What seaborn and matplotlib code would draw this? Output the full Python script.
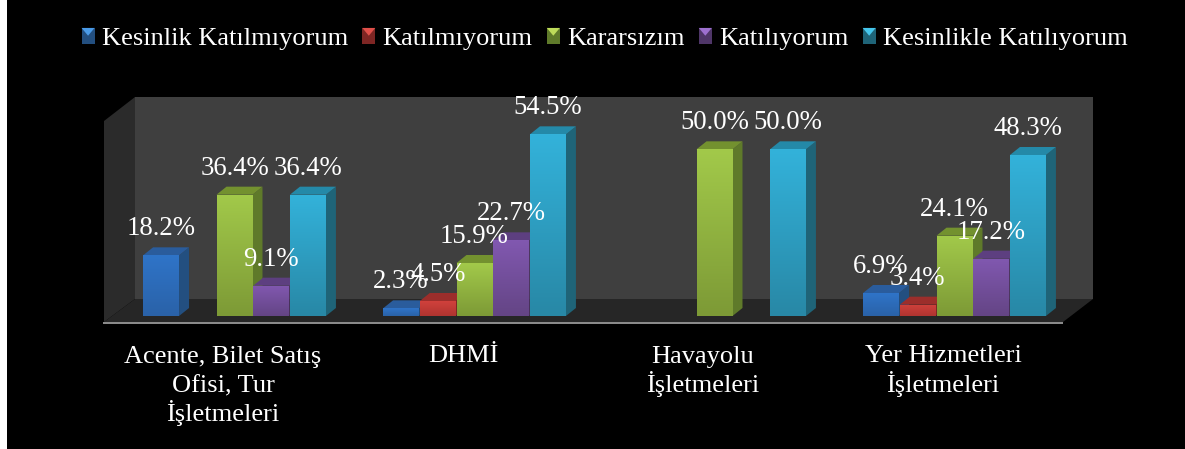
import numpy as np
import pandas as pd
import seaborn as sns
import matplotlib.pyplot as plt
from matplotlib.colors import LinearSegmentedColormap
from matplotlib.legend_handler import HandlerBase
from matplotlib.patches import Patch, Polygon, Rectangle

categories = ["Acente, Bilet Satış\nOfisi, Tur\nİşletmeleri", "DHMİ", "Havayolu\nİşletmeleri", "Yer Hizmetleri\nİşletmeleri"]
series = ["Kesinlik Katılmıyorum", "Katılmıyorum", "Kararsızım", "Katılıyorum", "Kesinlikle Katılıyorum"]
kesinlik_katilmiyorum = [18.2, 2.3, 0, 6.9]
katilmiyorum = [0, 4.5, 0, 3.4]
kararsizim = [36.4, 15.9, 50.0, 24.1]
katiliyorum = [9.1, 22.7, 0, 17.2]
kesinlikle_katiliyorum = [36.4, 54.5, 50.0, 48.3]
all_values = [kesinlik_katilmiyorum, katilmiyorum, kararsizim, katiliyorum, kesinlikle_katiliyorum]

# colours per series: front top, front bottom, side, top face
shades = [("#2f74c8", "#2a62a8", "#234f80", "#2a5c9c"),
          ("#d0413c", "#b03430", "#7e2624", "#9c2e2b"),
          ("#a2c94a", "#7d9a36", "#5f7a2a", "#73912f"),
          ("#8158b0", "#644585", "#4f3668", "#5d3f80"),
          ("#33b2da", "#2888a6", "#1f6478", "#2489a8")]
key_light = ["#4a9be8", "#e0504a", "#bedc5a", "#9d70cf", "#45c6ec"]

W, H = 1185, 449
FS = 19
sns.set_style("white")
plt.rcParams["font.family"] = ["Liberation Serif", "DejaVu Serif"]

fig = plt.figure(figsize=(W / 100, H / 100), dpi=100, facecolor="black")


def px(pts):
    # picture pixels (y down) to figure fraction
    return [(x / W, 1 - y / H) for x, y in pts]


def back_poly(pts, color, z=0):
    fig.add_artist(Polygon(px(pts), closed=True, facecolor=color, edgecolor="none", zorder=z))


# white strip on the left, then the 3d box behind the bars
fig.add_artist(Rectangle((0, 0), 7 / W, 1, facecolor="white", edgecolor="none", zorder=0))
back_poly([(135, 97), (1093, 97), (1093, 299), (135, 299)], "#3f3f3f")
back_poly([(104, 121), (135, 97), (135, 299), (104, 322)], "#2b2b2b")
back_poly([(104, 322), (135, 299), (1093, 299), (1063, 322)], "#262626")
back_poly([(103, 321.5), (1063, 321.5), (1063, 324), (103, 324)], "#8a8a8a")

ax = fig.add_axes([114.5 / W, 1 - 316 / H, 960 / W, 200 / H])
ax.patch.set_alpha(0)

df = pd.DataFrame({"category": np.repeat(categories, len(series)),
                   "series": series * len(categories),
                   "value": [all_values[s][c] for c in range(len(categories)) for s in range(len(series))]})
sns.barplot(data=df, x="category", y="value", hue="series", hue_order=series, order=categories,
            palette=[s[0] for s in shades], width=0.765, gap=0.02, saturation=1, errorbar=None,
            legend=False, linewidth=0, ax=ax)
ax.set_xlim(-0.5, 3.5)
ax.set_ylim(0, 60)

# depth of the bars in data units
dx = 10 / 240
dy = 8 / (200 / 60)

for s, cont in enumerate(ax.containers):
    cmap = LinearSegmentedColormap.from_list("f", [shades[s][0], shades[s][1]])
    z = 3 + s
    for bar in cont:
        h = bar.get_height()
        if h == 0:
            bar.set_visible(False)
            continue
        x0, x1 = bar.get_x(), bar.get_x() + bar.get_width()
        bar.set_zorder(z)
        bar.set_edgecolor("none")
        im = ax.imshow(np.linspace(0, 1, 64).reshape(-1, 1), cmap=cmap, aspect="auto",
                       extent=(x0, x1, 0, h), origin="upper", zorder=z + 0.1)
        im.set_clip_path(bar)
        ax.add_patch(Polygon([(x1, 0), (x1 + dx, dy), (x1 + dx, h + dy), (x1, h)],
                             facecolor=shades[s][2], edgecolor="none", zorder=z - 0.1, clip_on=False))
        ax.add_patch(Polygon([(x0, h), (x0 + dx, h + dy), (x1 + dx, h + dy), (x1, h)],
                             facecolor=shades[s][3], edgecolor="none", zorder=z - 0.1, clip_on=False))
    labels = ["%.1f%%" % v if v else "" for v in all_values[s]]
    for t in ax.bar_label(cont, labels=labels, padding=10, color="white", fontsize=FS + 0.3, clip_on=False):
        t.set_zorder(20)
ax.set_xlim(-0.5, 3.5)
ax.set_ylim(0, 60)

ax.set_xlabel("")
ax.set_ylabel("")
ax.set_yticks([])
ax.set_xticks([])
sns.despine(ax=ax, left=True, bottom=True)

# category names line by line: a multiline text spaces the lines with İ unevenly
for i, name in enumerate(categories):
    for n, line in enumerate(name.split("\n")):
        ax.annotate(line, xy=(i, 0), xytext=(-11.5 * 0.72, -(46.5 + 29.5 * n) * 0.72), textcoords="offset points",
                    ha="center", va="baseline", color="white", fontsize=FS, annotation_clip=False)


class SquareHandler(HandlerBase):
    # legend key: small square with light top, dark bottom
    def create_artists(self, legend, orig, xd, yd, w, h, fontsize, trans):
        x0, y0 = -xd, -yd
        x1, y1 = x0 + w, y0 + h
        cx, cy = (x0 + x1) / 2, (y0 + y1) / 2
        top, bottom = orig.get_facecolor(), orig.get_edgecolor()
        faces = [([(x0, y0), (x1, y0), (x1, y1), (x0, y1)], bottom),
                 ([(x0, y1), (x1, y1), (cx, cy)], top)]
        return [Polygon(p, closed=True, facecolor=c, edgecolor="none", transform=trans) for p, c in faces]


handles = [Patch(facecolor=key_light[i], edgecolor=shades[i][2]) for i in range(len(series))]
f = FS * 100 / 72
leg = fig.legend(handles, series, handler_map={Patch: SquareHandler()}, ncol=5, frameon=False,
                 loc="center", bbox_to_anchor=(604.5 / W, 1 - 39 / H), fontsize=FS, labelcolor="white",
                 handlelength=13 / f, handleheight=14 / f, handletextpad=7 / f, columnspacing=14.5 / f,
                 borderpad=0, borderaxespad=0)

fig.savefig("out.png", dpi=100, facecolor="black")
